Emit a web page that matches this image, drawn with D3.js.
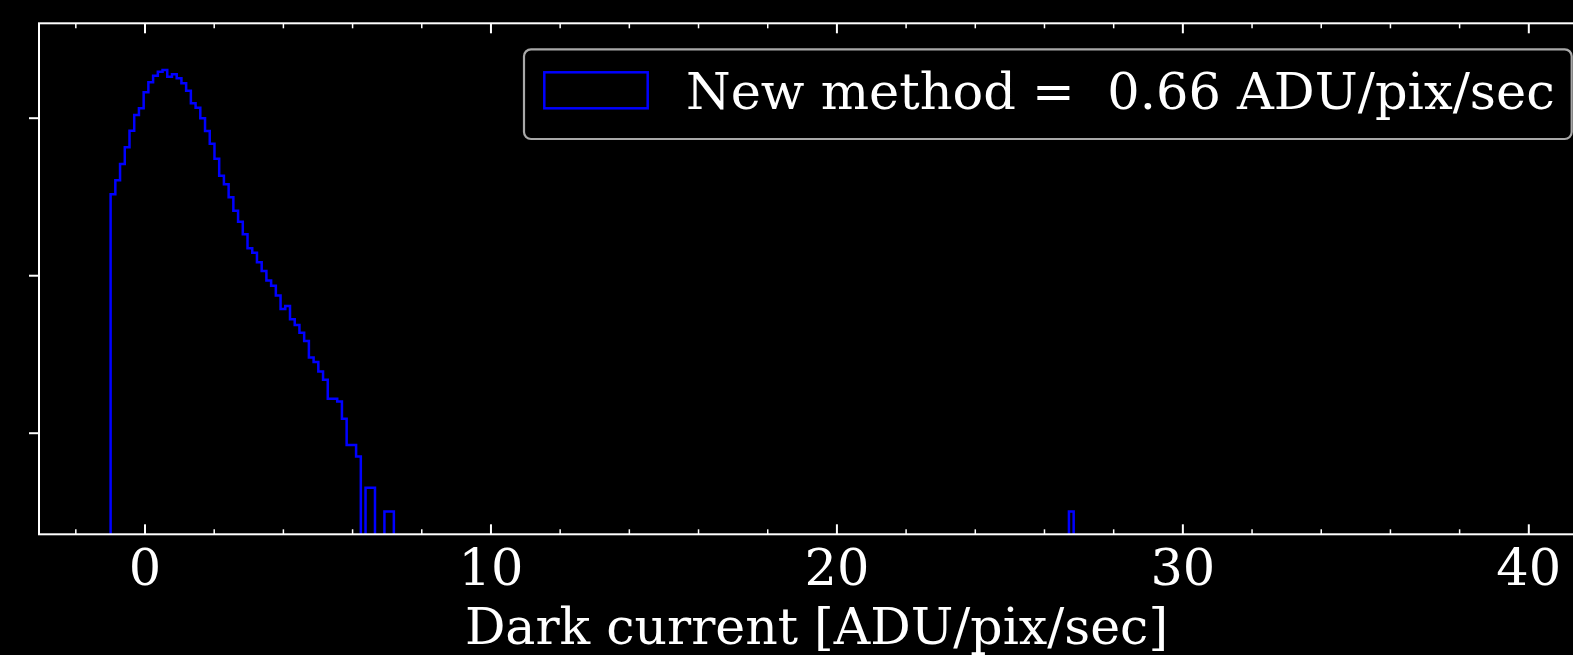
<!DOCTYPE html>
<html>
<head>
<meta charset="utf-8">
<script src="https://cdn.jsdelivr.net/npm/d3@7/dist/d3.min.js"></script>
<style>
  html, body { margin: 0; padding: 0; background: #000; }
  svg { display: block; }
  text { font-family: "DejaVu Serif", serif; fill: #fff; }
</style>
</head>
<body>
<svg id="chart" width="1573" height="655"></svg>
<script>
// ---------------- data ----------------
const binStart = -0.98;        // left edge of first bin [ADU/pix/sec]
const binWidth = 0.13646;      // bin width [ADU/pix/sec]
const nBins = 204;
// pixel counts of the first 60 bins
const counts = [
  10650, 16030, 25830, 42100, 68400, 108200, 131600, 210300, 281600, 341400,
  383700, 403500, 331800, 355800, 316400, 273500, 220200, 152400, 134000, 98250,
  67800, 46650, 30150, 18350, 14270, 9750, 6590, 4780, 3306, 2197,
  1931, 1459, 1131, 857, 733, 552, 372, 406, 275, 233,
  186, 146, 90, 79, 60, 47, 27, 27, 25, 15,
  7, 7, 5, 0, 2, 2, 0, 0, 1, 1
];
// isolated hot-pixel bins further out
const outlierBins = [203];
const outlierCounts = [1];

const xDomain = [-3.05, 41.87];
const yDomain = [0.513, 1.58e6];
const xMajorTicks = [0, 10, 20, 30, 40];
const xMinorTicks = [-2, 2, 4, 6, 8, 12, 14, 16, 18, 22, 24, 26, 28, 32, 34, 36, 38, 42];
const yTicks = [10, 1e3, 1e5];
const xLabel = "Dark current [ADU/pix/sec]";
const legendLabel = "New method =  0.66 ADU/pix/sec";

(function () {
// ---------------- layout ----------------
const svg = d3.select("#chart");
const mLeft = 39, mRight = 1593, mTop = 23.3, mBottom = 534.3;
const fs = 51;

const x = d3.scaleLinear().domain(xDomain).range([mLeft, mRight]);
const y = d3.scaleLog().domain(yDomain).range([mBottom, mTop]);

svg.append("rect").attr("width", 1573).attr("height", 655).attr("fill", "#000");

svg.append("defs").append("clipPath").attr("id", "plotclip")
  .append("rect").attr("x", mLeft).attr("y", mTop)
  .attr("width", mRight - mLeft).attr("height", mBottom - mTop);

// full histogram
const allCounts = d3.range(nBins).map(i => i < counts.length ? counts[i] : 0);
outlierBins.forEach((b, k) => { allCounts[b] = outlierCounts[k]; });
const edges = d3.range(nBins + 1).map(i => binStart + i * binWidth);

const below = mBottom + 40;
const yy = c => c > 0 ? y(c) : below;
let d = `M${x(edges[0])},${below}`;
allCounts.forEach((c, i) => {
  d += `L${x(edges[i])},${yy(c)}L${x(edges[i + 1])},${yy(c)}`;
});
d += `L${x(edges[nBins])},${below}`;

svg.append("path")
  .attr("d", d)
  .attr("fill", "none")
  .attr("stroke", "#0000ff")
  .attr("stroke-width", 2.5)
  .attr("stroke-linejoin", "miter")
  .attr("clip-path", "url(#plotclip)");

// ---------------- axes ----------------
function styleAxis(g, w) {
  g.select(".domain").remove();
  g.selectAll("line").attr("stroke", "#fff").attr("stroke-width", w);
  g.selectAll("text").attr("fill", "#fff")
    .style("font-family", "'DejaVu Serif', serif").style("font-size", fs + "px");
}

svg.append("g").attr("transform", `translate(0,${mBottom})`)
  .call(d3.axisBottom(x).tickValues(xMajorTicks).tickSize(-10).tickPadding(14.5)
    .tickFormat(d3.format("d")))
  .call(g => styleAxis(g, 2));
svg.append("g").attr("transform", `translate(0,${mBottom})`)
  .call(d3.axisBottom(x).tickValues(xMinorTicks).tickSize(-5).tickFormat(""))
  .call(g => styleAxis(g, 1.5));
svg.append("g").attr("transform", `translate(0,${mTop})`)
  .call(d3.axisTop(x).tickValues(xMajorTicks).tickSize(-10).tickFormat(""))
  .call(g => styleAxis(g, 2));
svg.append("g").attr("transform", `translate(0,${mTop})`)
  .call(d3.axisTop(x).tickValues(xMinorTicks).tickSize(-5).tickFormat(""))
  .call(g => styleAxis(g, 1.5));
svg.append("g").attr("transform", `translate(${mLeft},0)`)
  .call(d3.axisLeft(y).tickValues(yTicks).tickSize(10).tickFormat(""))
  .call(g => styleAxis(g, 2));

// spines
svg.append("rect").attr("x", mLeft).attr("y", mTop)
  .attr("width", mRight - mLeft).attr("height", mBottom - mTop)
  .attr("fill", "none").attr("stroke", "#fff").attr("stroke-width", 2);

// x label
svg.append("text")
  .attr("x", 816.5).attr("y", 644)
  .attr("text-anchor", "middle")
  .style("font-size", "50.5px")
  .text(xLabel);

// ---------------- legend ----------------
const lg = svg.append("g");
lg.append("rect")
  .attr("x", 524).attr("y", 49.3).attr("width", 1047.7).attr("height", 89.7)
  .attr("rx", 7).attr("ry", 7)
  .attr("fill", "#000").attr("stroke", "#a8a8a8").attr("stroke-width", 2.2);
lg.append("rect")
  .attr("x", 544.3).attr("y", 72.3).attr("width", 103.4).attr("height", 36)
  .attr("fill", "none").attr("stroke", "#0000ff").attr("stroke-width", 2.5);
lg.append("text")
  .attr("x", 686).attr("y", 108.5)
  .style("font-size", fs + "px")
  .style("white-space", "pre")
  .attr("xml:space", "preserve")
  .text(legendLabel);
})();
</script>
</body>
</html>
